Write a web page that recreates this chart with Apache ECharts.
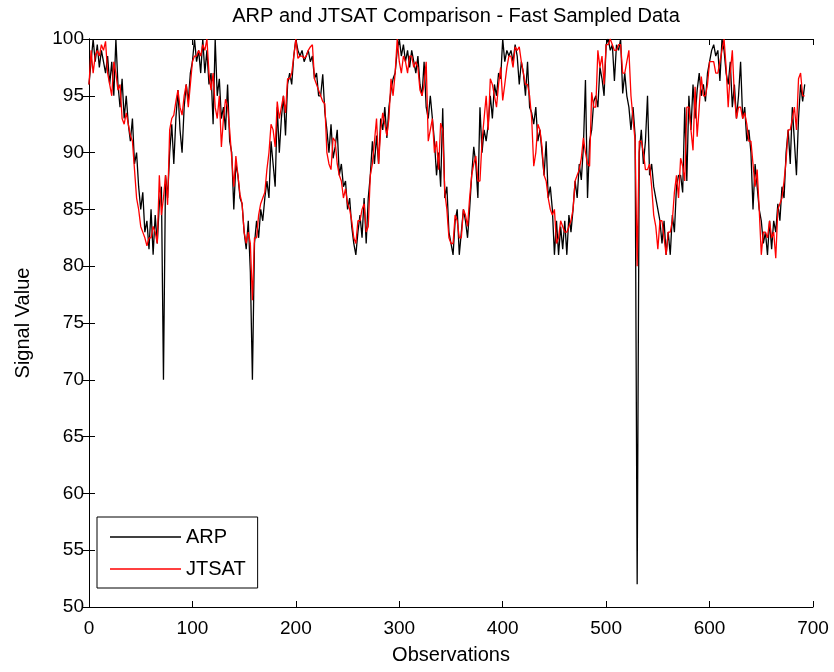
<!DOCTYPE html>
<html>
<head>
<meta charset="utf-8">
<script src="https://cdn.jsdelivr.net/npm/echarts@6/dist/echarts.min.js"></script>
<style>html,body{margin:0;padding:0;background:#fff;}#chart{width:834px;height:672px;}</style>
</head>
<body>
<div id="chart"></div>
<script>
// Observation spacing of the sampled readings (every 2nd observation)
const OBS_STEP = 2;
const xTicks = [0, 100, 200, 300, 400, 500, 600, 700];
const yTicks = [50, 55, 60, 65, 70, 75, 80, 85, 90, 95, 100];
const seriesNames = ['ARP', 'JTSAT'];

const arp = [
  96,98,100,98,99.5, 97.5,99,98,97,98.5, 96,98,95,100,96, 94,96.5,93,95,92.5,
  91,93,89,90,87, 85,86.5,83,84,81.5, 85,81,84.5,82,85.5, 87,70,88,86,90,
  92.5,89,93,95.5,92, 90,94,96,94.5,97, 98,100,98,99,97, 100,97,99,96,97,
  92.5,100,95,96.5,93, 94,92,96,91,90, 85,89,88,86,85.5, 83,81.5,84,79.5,70,
  82,84,82.5,85,84, 86,87.5,86,91,89, 87,94,90,93,95, 91.5,96,97,96,98.5,
  100,99,98.5,99,98, 98.5,99,98,98.5,96.5, 97,95,95,96.9,93.6, 92,90,92.5,89.5,90.5,
  92,88,89,87,87.5, 85,86,83.5,82,81, 83,84.5,82.5,86,82, 86,88,91,89,91.5,
  89,93,92,94,91.3, 94,95.5,96.5,97,99, 100,98.5,99.5,98,99, 97.5,99,98,97,98.5,
  96,95,98,94,93, 95,93,91,88,90, 87,93.9,86,87,83, 82,81,84,85,81,
  83,85,84,82.5,85, 88,90.5,89,86,94, 90,92,91,92.5,95, 93,96,95,97,96.5,
  100,98,99,98.5,99, 98,99.5,98.5,96,98, 97,95,98,94,93.5, 92.5,94,91,92,90,
  88,91,86,87,85, 81,84,81,83.5,81.5, 84,81,84.5,83,85, 87.5,86,89,87.6,90.5,
  96.4,86,91,92,94.5, 95,94,97.5,96.5,95, 99.5,100,99,99.5,96.3, 99.5,99,100,95.2,97,
  95,94,92,94,91.5, 52,90,92,89,91, 95,88,89,87,86, 85,84,82,84,81,
  83,81,84.5,83,87, 88,88,86.5,94,87.5, 95,92,96,93,95.5, 97,95,96,94.5,97,
  98,99,99.5,98.5,99, 96.3,100,99,97,96, 98,94,96,93,95, 98,93,94,91,92,
  90,85,89,87,85, 84,82,83,81,84, 81.5,84,83,85.5,84, 87,86,90,92,89,
  94,91,88,93,96, 94.5,96
];

const jtsat = [
  96,99,97,98.5,99, 98.5,99.5,99,99.8,97, 96,95,98,97,95.5, 96,93,92.5,93.5,92.5,
  91.5,91,88.5,86,85, 83.5,83,82.5,81.8,82.5, 82.5,83.5,83,82,88, 84.5,86,88,85.4,92,
  93,93.3,94.5,95.5,94, 93.3,95,96,94,96, 98,98.5,98.5,99,98.5, 99.5,99,100,97,95.5,
  97,94,93,95,90.5, 93,94.7,94,92,89.5, 87,89.7,88,86.3,85.5, 83,82,83,82,77,
  82.5,82.5,84.5,85.5,86, 86.5,88.5,90,92.5,92, 90.5,94.5,93,94,95, 93.5,96.5,96.5,97,98.5,
  100,98.3,98.5,98.5,98.3, 98.5,99,99.3,99.5,96.5, 96,95.5,95,94.5,94.3, 90,89,88.5,91.3,91,
  89,88,87.5,86,86.8, 85.5,85,84,82.5,82, 84,84,85,85.5,83, 83.5,88,89,91,93,
  89,92,93.5,92.5,91.5, 93,96.5,95,97,100, 98,97,98.5,98,97, 98.5,98.5,97.5,98,97.5,
  95.5,95,96,98,91, 92,93,90,91,88.5, 92.6,92,86.5,85,82.5, 82,82,84.5,84,82.5,
  82.5,85,84.5,83.5,86, 88,89,89.7,87.5,87.5, 91,93,95,92,96.5, 96,95,94,96,97.5,
  94.6,96,97.5,98.5,98.5, 97.5,99.3,99,99.3,98, 97,96,96,95,93, 88.8,90,92.5,92,90.5,
  88,87.5,86,85,84.5, 85,82,82.5,84,83.5, 83,83,83.5,84,85, 87.5,88,88.5,89.5,91.3,
  90,89,88.8,95.3,94, 94,99,97.5,98.5,96, 99.5,99.5,100,99.5,99, 99,99.5,99.5,97,97,
  98,99,95,93,91, 80,91,91,90,88.5, 88.5,89,87,84.5,83.5, 81.5,84,84,82.5,81,
  83,83,84,86.5,88, 86,89.5,88.8,87.5,94, 94,92,90.2,95.8,91.4, 94,96.7,95,95,96,
  98,98,98,97,97, 98,99,100,97.5,94, 97,99,95,93,94, 94,93,93.5,92.5,91,
  91,89,87,88.5,85, 81,83,83,82.5,84, 82.5,83,80.7,85,85.5, 86,87.5,89.3,92,92,
  93,94,92,96.5,97, 95,95
];

function pairs(vals) {
  return vals.map(function (v, i) { return [i * OBS_STEP, v]; });
}

const FONT = '"Liberation Sans", Arial, sans-serif';
const chart = echarts.init(document.getElementById('chart'), null, {renderer: 'canvas'});
const axisLineStyle = {color: '#000', width: 1};

chart.setOption({
  animation: false,
  backgroundColor: '#fff',
  title: {
    text: 'ARP and JTSAT Comparison - Fast Sampled Data',
    left: 451, top: 1, textAlign: 'center',
    textStyle: {fontFamily: FONT, fontSize: 20, fontWeight: 'normal', color: '#000'}
  },
  grid: {left: 89, right: 21, top: 39, bottom: 65, containLabel: false},
  legend: {
    data: seriesNames,
    orient: 'vertical',
    left: 97, top: 517,
    icon: 'rect',
    itemWidth: 71, itemHeight: 1.4, itemGap: 12,
    padding: [10, 12, 9, 13],
    borderColor: '#000', borderWidth: 1, borderRadius: 0,
    backgroundColor: '#fff',
    textStyle: {fontFamily: FONT, fontSize: 20, color: '#000'}
  },
  xAxis: [{
    type: 'value', min: xTicks[0], max: xTicks[xTicks.length - 1], interval: 100,
    name: 'Observations', nameLocation: 'middle', nameGap: 38,
    nameTextStyle: {fontFamily: FONT, fontSize: 20, color: '#000'},
    axisLine: {show: true, lineStyle: axisLineStyle},
    axisTick: {show: true, inside: true, length: 6, lineStyle: axisLineStyle},
    axisLabel: {fontFamily: FONT, fontSize: 19, color: '#000', margin: 12},
    splitLine: {show: false}
  }, {
    type: 'value', position: 'top', min: xTicks[0], max: xTicks[xTicks.length - 1], interval: 100,
    axisLine: {show: true, lineStyle: axisLineStyle},
    axisTick: {show: true, inside: true, length: 6, lineStyle: axisLineStyle},
    axisLabel: {show: false}, splitLine: {show: false}
  }],
  yAxis: [{
    type: 'value', min: yTicks[0], max: yTicks[yTicks.length - 1], interval: 5,
    name: 'Signal Value', nameLocation: 'middle', nameGap: 56,
    nameTextStyle: {fontFamily: FONT, fontSize: 20, color: '#000'},
    axisLine: {show: true, lineStyle: axisLineStyle},
    axisTick: {show: true, inside: true, length: 6, lineStyle: axisLineStyle},
    axisLabel: {fontFamily: FONT, fontSize: 19, color: '#000', margin: 5},
    splitLine: {show: false}
  }, {
    type: 'value', position: 'right', min: yTicks[0], max: yTicks[yTicks.length - 1], interval: 5,
    axisLine: {show: true, lineStyle: axisLineStyle},
    axisTick: {show: true, inside: true, length: 6, lineStyle: axisLineStyle},
    axisLabel: {show: false}, splitLine: {show: false}
  }],
  series: [{
    name: seriesNames[0], type: 'line', data: pairs(arp),
    xAxisIndex: 0, yAxisIndex: 0,
    symbol: 'none', showSymbol: false, clip: true,
    lineStyle: {color: '#000000', width: 1.3},
    itemStyle: {color: '#000000'}
  }, {
    name: seriesNames[1], type: 'line', data: pairs(jtsat),
    xAxisIndex: 0, yAxisIndex: 0,
    symbol: 'none', showSymbol: false, clip: true,
    lineStyle: {color: '#ff0000', width: 1.3},
    itemStyle: {color: '#ff0000'}
  }]
});
</script>
</body>
</html>
